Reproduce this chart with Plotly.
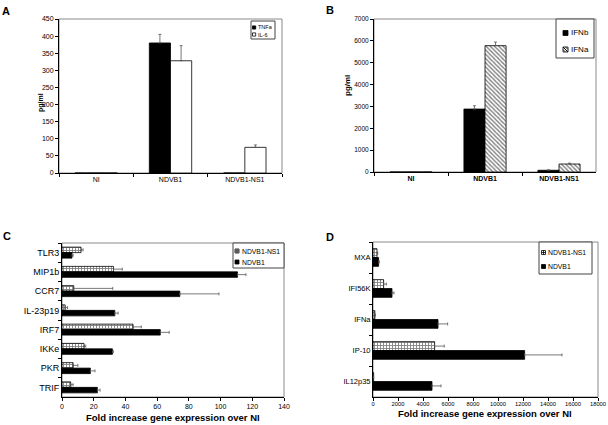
import plotly.graph_objects as go

# ---------------- data ----------------
A_categories = ["NI", "NDVB1", "NDVB1-NS1"]
A_tnfa = [0, 380, 0]
A_tnfa_err = [0, 25, 0]
A_il6 = [0, 328, 75]
A_il6_err = [0, 44, 7]

B_categories = ["NI", "NDVB1", "NDVB1-NS1"]
B_ifnb = [0, 2880, 80]
B_ifnb_err = [0, 150, 20]
B_ifna = [0, 5780, 366]
B_ifna_err = [0, 165, 40]

C_genes = ["TLR3", "MIP1b", "CCR7", "IL-23p19", "IRF7", "IKKe", "PKR", "TRIF"]
C_ns1 = [12, 32.5, 7.4, 2, 44.8, 13.9, 7, 5.5]
C_ns1_err = [1.3, 5.5, 24.6, 1.5, 5.2, 1.1, 3, 1.5]
C_ndvb1 = [6.3, 110.7, 74.3, 33.3, 62, 31.8, 17.9, 22.3]
C_ndvb1_err = [0.7, 5.3, 24.7, 2.1, 5.6, 0.6, 2.9, 1.7]

D_genes = ["MXA", "IFI56K", "IFNa", "IP-10", "IL12p35"]
D_ns1 = [320, 850, 150, 4930, 50]
D_ns1_err = [60, 220, 30, 770, 0]
D_ndvb1 = [450, 1520, 5200, 12130, 4720]
D_ndvb1_err = [50, 160, 770, 2990, 720]

# ---------------- helpers ----------------
W, H = 608, 425
FONT = "Arial, Liberation Sans, sans-serif"


def px(x):
    return x / W


def py(y):
    return 1 - y / H


def err(vals):
    return dict(type="data", array=vals, arrayminus=[0] * len(vals), symmetric=False,
                color="#555555", thickness=0.8, width=1.5)


GRID = dict(shape="+", size=3, solidity=0.5, fgcolor="black", bgcolor="white")
DIAG = dict(shape="\\", size=3, solidity=0.45, fgcolor="black", bgcolor="white")
SOLID = dict(color="black", line=dict(color="black", width=0.8))

fig = go.Figure()

# Panel A
fig.add_trace(go.Bar(x=A_categories, y=A_tnfa, name="TNFa", xaxis="x", yaxis="y",
                     marker=SOLID, error_y=err(A_tnfa_err)))
fig.add_trace(go.Bar(x=A_categories, y=A_il6, name="IL-6", xaxis="x", yaxis="y",
                     marker=dict(color="white", line=dict(color="black", width=0.8)),
                     error_y=err(A_il6_err)))
# Panel B
fig.add_trace(go.Bar(x=B_categories, y=B_ifnb, name="IFNb", xaxis="x2", yaxis="y2",
                     marker=SOLID, error_y=err(B_ifnb_err)))
fig.add_trace(go.Bar(x=B_categories, y=B_ifna, name="IFNa", xaxis="x2", yaxis="y2",
                     marker=dict(color="white", line=dict(color="black", width=0.8), pattern=DIAG),
                     error_y=err(B_ifna_err)))
# Panel C
fig.add_trace(go.Bar(y=C_genes, x=C_ns1, name="NDVB1-NS1", orientation="h", xaxis="x3", yaxis="y3",
                     marker=dict(color="white", line=dict(color="black", width=0.8), pattern=GRID),
                     error_x=err(C_ns1_err)))
fig.add_trace(go.Bar(y=C_genes, x=C_ndvb1, name="NDVB1", orientation="h", xaxis="x3", yaxis="y3",
                     marker=SOLID, error_x=err(C_ndvb1_err)))
# Panel D
fig.add_trace(go.Bar(y=D_genes, x=D_ns1, name="NDVB1-NS1", orientation="h", xaxis="x4", yaxis="y4",
                     marker=dict(color="white", line=dict(color="black", width=0.8), pattern=GRID),
                     error_x=err(D_ns1_err)))
fig.add_trace(go.Bar(y=D_genes, x=D_ndvb1, name="NDVB1", orientation="h", xaxis="x4", yaxis="y4",
                     marker=SOLID, error_x=err(D_ndvb1_err)))

common = dict(showline=True, linecolor="black", linewidth=1, ticks="outside", ticklen=3,
              tickcolor="black", showgrid=False, zeroline=False, automargin=False,
              fixedrange=True)

layout = dict(
    width=W, height=H, margin=dict(l=0, r=0, t=0, b=0),
    paper_bgcolor="white", plot_bgcolor="white", showlegend=False,
    barmode="group", bargap=0.43, bargroupgap=0,
    font=dict(family=FONT, color="black"),
    hovermode=False,
    # A
    xaxis=dict(domain=[px(59), px(282)], anchor="y", type="category", tickson="boundaries",
               tickfont=dict(size=7), **common),
    yaxis=dict(domain=[py(173), py(19)], anchor="x", range=[0, 450], dtick=50,
               tickfont=dict(size=7), **common),
    # B
    xaxis2=dict(domain=[px(374), px(596)], anchor="y2", type="category", tickson="boundaries",
                tickfont=dict(size=7), tickprefix="<b>", ticksuffix="</b>", **common),
    yaxis2=dict(domain=[py(172), py(19)], anchor="x2", range=[0, 7000], dtick=1000,
                tickfont=dict(size=6.5), **common),
    # C
    xaxis3=dict(domain=[px(62), px(284)], anchor="y3", range=[0, 140], dtick=20,
                tickfont=dict(size=7), **common),
    yaxis3=dict(domain=[py(397), py(243)], anchor="x3", type="category", autorange="reversed",
                tickson="boundaries", tickfont=dict(size=9), **common),
    # D
    xaxis4=dict(domain=[px(373), px(598)], anchor="y4", range=[0, 18000], dtick=2000,
                tickformat="d", tickfont=dict(size=5.8), ticklabelstandoff=-2, **common),
    yaxis4=dict(domain=[py(397), py(242)], anchor="x4", type="category", autorange="reversed",
                tickson="boundaries", tickfont=dict(size=7.5), **common),
)
fig.update_layout(**layout)

shapes = []
annotations = []

# plot area frames
for xa, ya in [("x", "y"), ("x2", "y2"), ("x3", "y3"), ("x4", "y4")]:
    shapes.append(dict(type="rect", xref=xa + " domain", yref=ya + " domain",
                       x0=0, x1=1, y0=0, y1=1, line=dict(color="#8a8a8a", width=1),
                       layer="below"))

# panel letters
for txt, x, y in [("A", 6, 11), ("B", 330, 10), ("C", 7, 236), ("D", 330, 237)]:
    annotations.append(dict(text="<b>%s</b>" % txt, x=px(x), y=py(y), xref="paper", yref="paper",
                            showarrow=False, xanchor="center", yanchor="middle",
                            font=dict(size=11, family=FONT)))

# y-axis titles of A and B
for x, y, s in [(41, 103, 7), (347, 86, 8)]:
    annotations.append(dict(text="<b>pg/ml</b>", x=px(x), y=py(y), xref="paper", yref="paper",
                            showarrow=False, textangle=-90, xanchor="center", yanchor="middle",
                            font=dict(size=s, family=FONT)))

# x-axis titles of C and D
for x, y in [(173, 417), (485, 413.5)]:
    annotations.append(dict(text="<b>Fold increase gene expression over NI</b>", x=px(x), y=py(y),
                            xref="paper", yref="paper", showarrow=False,
                            xanchor="center", yanchor="middle", font=dict(size=9.5, family=FONT)))


def legend_box(x0, y0, x1, y1):
    shapes.append(dict(type="rect", xref="paper", yref="paper", x0=px(x0), x1=px(x1),
                       y0=py(y1), y1=py(y0), line=dict(color="#444444", width=1),
                       fillcolor="white", layer="above"))


def swatch(x0, yc, s, kind):
    xa, xb = x0, x0 + s
    ya, yb = yc - s / 2, yc + s / 2
    fill = "black" if kind == "solid" else "white"
    shapes.append(dict(type="rect", xref="paper", yref="paper", x0=px(xa), x1=px(xb),
                       y0=py(yb), y1=py(ya), line=dict(color="black", width=0.8),
                       fillcolor=fill, layer="above"))
    if kind == "grid":
        xm, ym = (xa + xb) / 2, (ya + yb) / 2
        shapes.append(dict(type="line", xref="paper", yref="paper", x0=px(xm), x1=px(xm),
                           y0=py(ya), y1=py(yb), line=dict(color="black", width=0.8), layer="above"))
        shapes.append(dict(type="line", xref="paper", yref="paper", x0=px(xa), x1=px(xb),
                           y0=py(ym), y1=py(ym), line=dict(color="black", width=0.8), layer="above"))
    if kind == "diag":
        for f in (0.0, 0.5):
            shapes.append(dict(type="line", xref="paper", yref="paper",
                               x0=px(xa + f * s), x1=px(xb), y0=py(ya), y1=py(yb - f * s),
                               line=dict(color="black", width=0.8), layer="above"))
            shapes.append(dict(type="line", xref="paper", yref="paper",
                               x0=px(xa), x1=px(xb - f * s), y0=py(ya + f * s), y1=py(yb),
                               line=dict(color="black", width=0.8), layer="above"))


def label(text, x, y, size):
    annotations.append(dict(text=text, x=px(x), y=py(y), xref="paper", yref="paper",
                            showarrow=False, xanchor="left", yanchor="middle",
                            font=dict(size=size, family=FONT)))


# legend A
legend_box(251, 21, 275, 39)
swatch(252.5, 27.5, 3.2, "solid")
label("TNFa", 256, 27.5, 5.5)
swatch(252.5, 34.5, 3.2, "white")
label("IL-6", 256, 34.5, 5.5)

# legend B
legend_box(556, 19, 594, 58)
swatch(563, 33, 5, "solid")
label("IFNb", 569, 33, 8)
swatch(563, 49.5, 5, "diag")
label("IFNa", 569, 49.5, 8)

# legend C
legend_box(233, 243, 284, 268)
swatch(235, 251, 4, "grid")
label("NDVB1-NS1", 239.5, 251, 6.8)
swatch(235, 262, 4, "solid")
label("NDVB1", 239.5, 262, 6.8)

# legend D
legend_box(539, 242, 592, 274)
swatch(541.5, 252.5, 4, "grid")
label("NDVB1-NS1", 546, 252.5, 6.8)
swatch(541.5, 266.5, 4, "solid")
label("NDVB1", 546, 266.5, 6.8)

fig.update_layout(shapes=shapes, annotations=annotations)

fig.write_html("out.html", config={"displayModeBar": False, "staticPlot": True},
               post_script="document.body.style.margin='0';document.body.style.overflow='hidden';")
